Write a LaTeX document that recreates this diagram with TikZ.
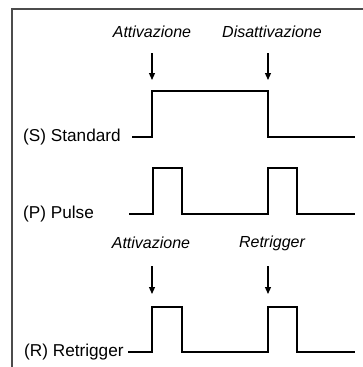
\documentclass[tikz,border=0pt]{standalone}
\usepackage{fontspec}
\setmainfont{Liberation Sans}
\usetikzlibrary{arrows.meta, positioning}

\begin{document}
\begin{tikzpicture}[
    x=1pt, y=-1pt,
    every node/.style={font=\fontsize{17.2}{20}\selectfont, inner sep=0pt},
    tag/.style={font=\fontsize{16}{19}\selectfont\itshape},
    arr/.style={-{Triangle[length=7pt, width=6pt]}, line width=1.2pt},
    sig/.style={line width=1.8pt, line join=miter},
    frame/.style={line width=1.4pt, draw=black!70}
]
\useasboundingbox (0,0) rectangle (363,367);
\draw[frame] (12,367) -- (12,9) -- (363,9);

% event labels
\node[tag] (act1) at (152,32)  {Attivazione};
\node[tag] (dis)  at (272,32)  {Disattivazione};
\node[tag] (act2) at (151,243) {Attivazione};
\node[tag] (retr) at (272,243) {Retrigger};

% mode labels
\node[anchor=west] (std)   at (23,137) {(S) Standard};
\node[anchor=west] (pulse) at (23,214) {(P) Pulse};
\node[anchor=west] (rtg)   at (24,352) {(R) Retrigger};

% arrow ends
\coordinate (a1) at (152,53);  \coordinate (b1) at (152,80);
\coordinate (a2) at (268,53);  \coordinate (b2) at (268,80);
\coordinate (a3) at (152,266); \coordinate (b3) at (152,294);
\coordinate (a4) at (268,266); \coordinate (b4) at (268,294);

\draw[arr] (a1) -- (b1);
\draw[arr] (a2) -- (b2);
\draw[arr] (a3) -- (b3);
\draw[arr] (a4) -- (b4);

% signals
\draw[sig] (132,137) -- (152,137) -- (152,91) -- (268,91) -- (268,137) -- (355,137);
\draw[sig] (129,214) -- (153,214) -- (153,168) -- (182,168) -- (182,214)
    -- (268,214) -- (268,168) -- (297,168) -- (297,214) -- (355,214);
\draw[sig] (128,352) -- (152,352) -- (152,307) -- (182,307) -- (182,352)
    -- (268,352) -- (268,307) -- (297,307) -- (297,352) -- (355,352);
\end{tikzpicture}
\end{document}
